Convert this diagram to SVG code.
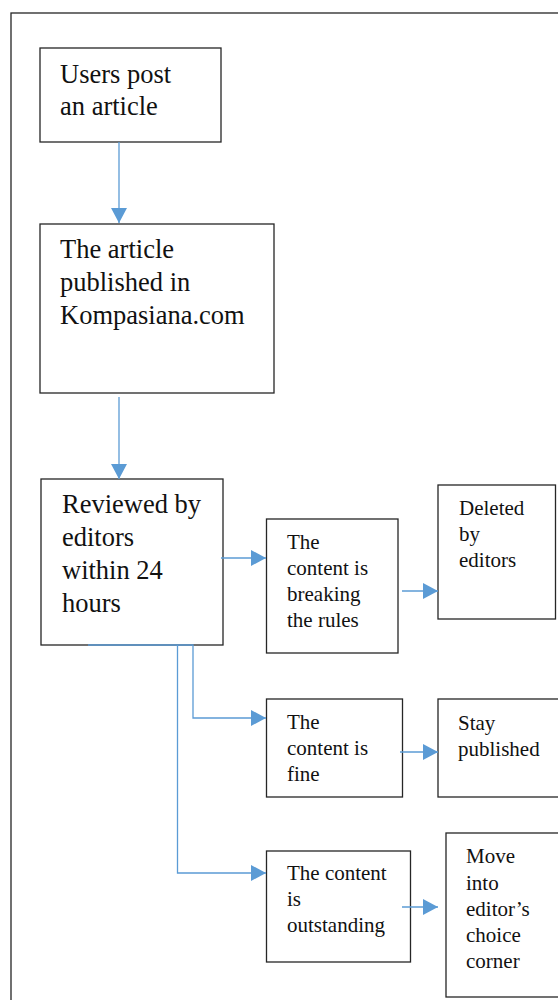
<svg xmlns="http://www.w3.org/2000/svg" width="558" height="1000" viewBox="0 0 558 1000">
<style>
.box{fill:#fff;stroke:#262626;stroke-width:1.3}
.frame{fill:none;stroke:#262626;stroke-width:1.3}
.big{font-family:"Liberation Serif","Times New Roman",serif;font-size:26.5px;fill:#111}
.sm{font-family:"Liberation Serif","Times New Roman",serif;font-size:21px;fill:#111}
.con{fill:none;stroke:#5b9bd5;stroke-width:1.3}
</style>
<defs>
<marker id="ah" markerUnits="userSpaceOnUse" markerWidth="16" markerHeight="16" refX="15" refY="8" orient="auto">
<path d="M0,0 L15,8 L0,16 z" fill="#5b9bd5"/>
</marker>
</defs>
<rect class="frame" x="11" y="13" width="600" height="1000"/>
<g id="n1">
<rect class="box" x="40" y="48" width="181" height="94"/>
<text class="big" x="60" y="83">Users post</text>
<text class="big" x="60" y="115">an article</text>
</g>
<g id="n2">
<rect class="box" x="40" y="224" width="234" height="169"/>
<text class="big" x="60" y="258">The article</text>
<text class="big" x="60" y="291">published in</text>
<text class="big" x="60" y="324">Kompasiana.com</text>
</g>
<g id="n3">
<rect class="box" x="41" y="479" width="182" height="166"/>
<text class="big" x="62" y="513">Reviewed by</text>
<text class="big" x="62" y="546">editors</text>
<text class="big" x="62" y="579">within 24</text>
<text class="big" x="62" y="612">hours</text>
</g>
<g id="n4">
<rect class="box" x="266.5" y="519" width="131.5" height="134"/>
<text class="sm" x="287" y="549">The</text>
<text class="sm" x="287" y="575">content is</text>
<text class="sm" x="287" y="601">breaking</text>
<text class="sm" x="287" y="627">the rules</text>
</g>
<g id="n5">
<rect class="box" x="438" y="485" width="117.5" height="134"/>
<text class="sm" x="459" y="515">Deleted</text>
<text class="sm" x="459" y="541">by</text>
<text class="sm" x="459" y="567">editors</text>
</g>
<g id="n6">
<rect class="box" x="266.5" y="699" width="136" height="98"/>
<text class="sm" x="287" y="729">The</text>
<text class="sm" x="287" y="755">content is</text>
<text class="sm" x="287" y="781">fine</text>
</g>
<g id="n7">
<rect class="box" x="438" y="699" width="200" height="98"/>
<text class="sm" x="458" y="730">Stay</text>
<text class="sm" x="458" y="756">published</text>
</g>
<g id="n8">
<rect class="box" x="266.5" y="851" width="144" height="111"/>
<text class="sm" x="287" y="880">The content</text>
<text class="sm" x="287" y="906">is</text>
<text class="sm" x="287" y="932">outstanding</text>
</g>
<g id="n9">
<rect class="box" x="446" y="833" width="200" height="164"/>
<text class="sm" x="466" y="863">Move</text>
<text class="sm" x="466" y="890">into</text>
<text class="sm" x="466" y="916">editor’s</text>
<text class="sm" x="466" y="942">choice</text>
<text class="sm" x="466" y="968">corner</text>
</g>
<g id="connectors">
<path class="con" d="M119,142 V223" marker-end="url(#ah)"/>
<path class="con" d="M119,397 V479" marker-end="url(#ah)"/>
<path class="con" d="M221,558 H266" marker-end="url(#ah)"/>
<path class="con" d="M88,645 H193 V718 H266" marker-end="url(#ah)"/>
<path class="con" d="M177.5,645 V873 H266" marker-end="url(#ah)"/>
<path class="con" d="M402,591 H438" marker-end="url(#ah)"/>
<path class="con" d="M400,752 H438" marker-end="url(#ah)"/>
<path class="con" d="M402,907 H438" marker-end="url(#ah)"/>
</g>
</svg>
